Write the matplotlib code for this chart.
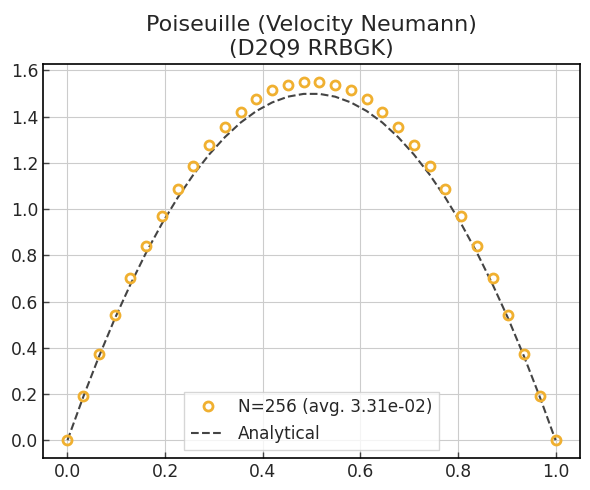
import matplotlib
matplotlib.use("Agg")
import matplotlib.pyplot as plt

# Data
x_pts = [i / 31 for i in range(32)]
u_num = [0.0, 0.19, 0.373, 0.542, 0.70, 0.839, 0.97, 1.086, 1.188, 1.277,
         1.355, 1.42, 1.474, 1.514, 1.536, 1.551,
         1.551, 1.536, 1.514, 1.474, 1.42, 1.355, 1.277, 1.188, 1.086,
         0.97, 0.839, 0.70, 0.542, 0.373, 0.19, 0.0]
u_ana = [0.0, 0.187, 0.362, 0.525, 0.674, 0.812, 0.937, 1.049, 1.149, 1.236,
         1.311, 1.374, 1.424, 1.461, 1.486, 1.498,
         1.498, 1.486, 1.461, 1.424, 1.374, 1.311, 1.236, 1.149, 1.049,
         0.937, 0.812, 0.674, 0.525, 0.362, 0.187, 0.0]
title = "Poiseuille (Velocity Neumann)\n(D2Q9 RRBGK)"
num_label = "N=256 (avg. 3.31e-02)"
ana_label = "Analytical"

txt = "#262626"
plt.rcParams.update({
    "font.family": "DejaVu Sans",
    "text.color": txt,
    "axes.labelcolor": txt,
    "xtick.color": txt,
    "ytick.color": txt,
    "xtick.direction": "in",
    "ytick.direction": "in",
})

fig, ax = plt.subplots(figsize=(5.9, 4.9), dpi=100)
fig.subplots_adjust(left=0.073, right=0.983, top=0.87, bottom=0.065)

ax.plot(x_pts, u_num, linestyle="none", marker="o", markersize=6.5,
        markerfacecolor="none", markeredgecolor="#f0b030", markeredgewidth=2,
        label=num_label, zorder=3)
ax.plot(x_pts, u_ana, linestyle="--", color="#444444", linewidth=1.5,
        label=ana_label, zorder=2)

ax.grid(True, color="#cccccc", linewidth=0.8)
ax.set_axisbelow(True)
for s in ax.spines.values():
    s.set_color("black")
    s.set_linewidth(1.2)
ax.tick_params(labelsize=12.3, length=4, width=1, colors=txt)
ax.tick_params(axis="both", color="#444444")
ax.set_title(title, fontsize=16, color=txt, linespacing=1.25, pad=6)

leg = ax.legend(loc="lower center", fontsize=12.2, frameon=True, fancybox=False,
                edgecolor="#cccccc", framealpha=0.8)
leg.get_frame().set_linewidth(1.0)

fig.savefig("out.png", dpi=100)
